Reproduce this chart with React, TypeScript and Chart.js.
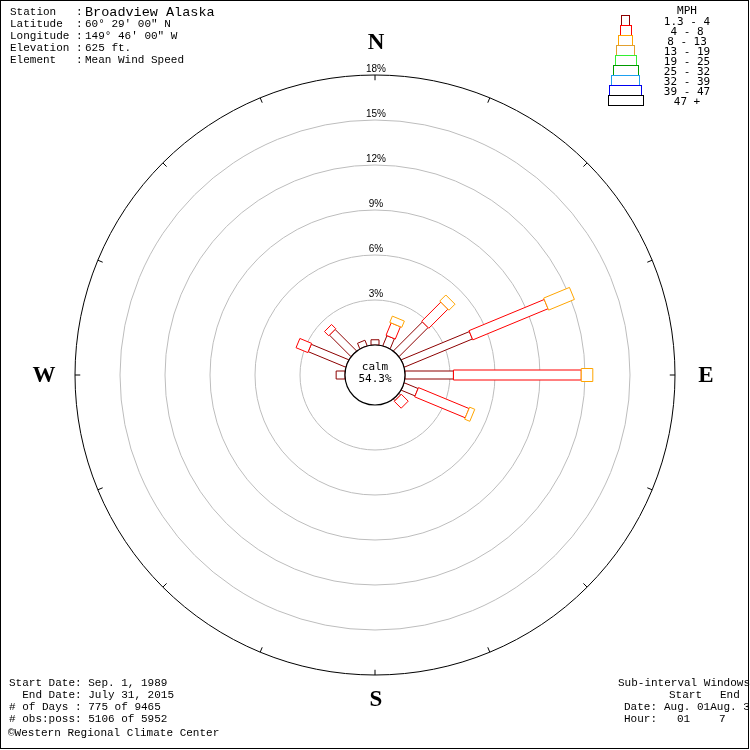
import React, { useEffect, useRef } from "react";
import { Chart, registerables } from "chart.js";

Chart.register(...registerables);

// ---- Data ----
const directions = ["N", "NNE", "NE", "ENE", "E", "ESE", "SE", "SSE", "S", "SSW", "SW", "WSW", "W", "WNW", "NW", "NNW"];
const speedClasses = ["1.3 - 4", "4 - 8", "8 - 13", "13 - 19", "19 - 25", "25 - 32", "32 - 39", "39 - 47", "47 +"];
const classColors = ["#8c0000", "#ff0000", "#ffa500", "#e0a030", "#33ee33", "#009900", "#1ea0f0", "#0000ee", "#000000"];
const classWidths = [8, 10, 13, 16, 19, 22, 25, 28, 31];
// percent of observations per direction, per speed class
const speed1 = [0.35, 0.73, 2.74, 4.92, 3.23, 1.0, 0.15, 0, 0, 0, 0, 0, 0.59, 2.71, 2.03, 0.4];
const speed2 = [0, 0.89, 1.8, 5.43, 8.52, 3.65, 0.65, 0, 0, 0, 0, 0, 0, 0.85, 0.4, 0];
const speed3 = [0, 0.45, 0.57, 1.86, 0.77, 0.37, 0, 0, 0, 0, 0, 0, 0, 0, 0, 0];
const speed4 = [0, 0, 0, 0, 0, 0, 0, 0, 0, 0, 0, 0, 0, 0, 0, 0];
const speed5 = [0, 0, 0, 0, 0, 0, 0, 0, 0, 0, 0, 0, 0, 0, 0, 0];
const speed6 = [0, 0, 0, 0, 0, 0, 0, 0, 0, 0, 0, 0, 0, 0, 0, 0];
const speed7 = [0, 0, 0, 0, 0, 0, 0, 0, 0, 0, 0, 0, 0, 0, 0, 0];
const speed8 = [0, 0, 0, 0, 0, 0, 0, 0, 0, 0, 0, 0, 0, 0, 0, 0];
const speed9 = [0, 0, 0, 0, 0, 0, 0, 0, 0, 0, 0, 0, 0, 0, 0, 0];
const seriesValues = [speed1, speed2, speed3, speed4, speed5, speed6, speed7, speed8, speed9];
const ringTicks = [3, 6, 9, 12, 15, 18];
const calmLabel = "calm";
const calmPct = "54.3%";
const compassLabels = ["N", "E", "S", "W"];
const compassIndex = [0, 4, 8, 12];

const headerLabels = ["Station   : ", "Latitude  : ", "Longitude : ", "Elevation : ", "Element   : "];
const headerValues = ["Broadview Alaska", "60\u00b0 29' 00\" N", "149\u00b0 46' 00\" W", "625 ft.", "Mean Wind Speed"];
const footerLeft = ["Start Date: Sep. 1, 1989", "  End Date: July 31, 2015", "# of Days : 775 of 9465", "# obs:poss: 5106 of 5952"];
const creditText = "\u00a9Western Regional Climate Center";

const MONO = "'Liberation Mono', 'DejaVu Sans Mono', monospace";

const rosePlugin = {
  id: "windrose",
  afterDraw(chart: any) {
    const ctx: CanvasRenderingContext2D = chart.ctx;
    const scale = chart.scales.r;
    const n = chart.data.labels.length;
    const dist = (v: number) => scale.getDistanceFromCenterForValue(v);
    ctx.save();

    // outer ring ticks
    ctx.strokeStyle = "#000";
    ctx.lineWidth = 1;
    const rOut = dist(scale.max);
    const rIn = dist(scale.max - 0.35);
    for (let i = 0; i < n; i++) {
      const a = scale.getPointPosition(i, rOut);
      const b = scale.getPointPosition(i, rIn);
      ctx.beginPath();
      ctx.moveTo(a.x, a.y);
      ctx.lineTo(b.x, b.y);
      ctx.stroke();
    }

    // ring labels
    ctx.fillStyle = "#000";
    ctx.font = "10px 'Liberation Sans', sans-serif";
    ctx.textAlign = "center";
    ctx.textBaseline = "alphabetic";
    ringTicks.forEach((v) => {
      const p = scale.getPointPosition(0, dist(v));
      ctx.fillText(v + "%", p.x + 1, p.y - 3);
    });

    // bars
    for (let i = 0; i < n; i++) {
      let cum = 0;
      chart.data.datasets.forEach((ds: any, k: number) => {
        const v = ds.data[i];
        if (!v) return;
        const p1 = scale.getPointPosition(i, dist(cum));
        const p2 = scale.getPointPosition(i, dist(cum + v));
        cum += v;
        const dx = p2.x - p1.x, dy = p2.y - p1.y;
        const len = Math.hypot(dx, dy) || 1;
        const nx = (-dy / len) * (classWidths[k] / 2);
        const ny = (dx / len) * (classWidths[k] / 2);
        ctx.beginPath();
        ctx.moveTo(p1.x + nx, p1.y + ny);
        ctx.lineTo(p2.x + nx, p2.y + ny);
        ctx.lineTo(p2.x - nx, p2.y - ny);
        ctx.lineTo(p1.x - nx, p1.y - ny);
        ctx.closePath();
        ctx.fillStyle = "#fff";
        ctx.fill();
        ctx.strokeStyle = ds.borderColor0;
        ctx.lineWidth = 1;
        ctx.stroke();
      });
    }

    // calm circle
    ctx.beginPath();
    ctx.arc(scale.xCenter, scale.yCenter, dist(0), 0, Math.PI * 2);
    ctx.fillStyle = "#fff";
    ctx.fill();
    ctx.strokeStyle = "#000";
    ctx.lineWidth = 1.2;
    ctx.stroke();
    ctx.fillStyle = "#000";
    ctx.font = "11px 'DejaVu Sans Mono', monospace";
    ctx.textAlign = "center";
    ctx.textBaseline = "middle";
    ctx.fillText(calmLabel, scale.xCenter, scale.yCenter - 8);
    ctx.fillText(calmPct, scale.xCenter, scale.yCenter + 4);

    // compass letters
    const compassGap = [33, 30, 24, 32];
    ctx.font = "bold 23px 'Liberation Serif', serif";
    compassLabels.forEach((lab, j) => {
      const p = scale.getPointPosition(compassIndex[j], dist(scale.max) + compassGap[j]);
      ctx.fillText(lab, p.x + 1, p.y + 1);
    });

    // legend
    ctx.lineWidth = 1;
    speedClasses.forEach((lab, k) => {
      const w = classWidths[k] + 0.5 * k;
      const top = 15 + 10 * k;
      ctx.strokeStyle = classColors[k];
      ctx.strokeRect(Math.round(625 - w / 2) + 0.5, top + 0.5, Math.round(w), 10);
      ctx.fillStyle = "#000";
      ctx.font = "11px 'DejaVu Sans Mono', monospace";
      ctx.textAlign = "center";
      ctx.textBaseline = "middle";
      ctx.fillText(lab, 687, top + 7);
    });
    ctx.fillText("MPH", 687, 11);

    // header
    ctx.textAlign = "left";
    ctx.textBaseline = "middle";
    headerLabels.forEach((lab, r) => {
      const y = 12 + 12 * r;
      ctx.font = "11px " + MONO;
      ctx.fillText(lab, 10, y);
      ctx.font = (r === 0 ? "13.5px " : "11px ") + MONO;
      ctx.fillText(headerValues[r], 85, y);
    });

    // footer left
    ctx.font = "11px " + MONO;
    footerLeft.forEach((t, r) => ctx.fillText(t, 9, 683 + 12 * r));
    ctx.fillText(creditText, 8, 733);

    // footer right
    ctx.fillText("Sub-interval Windows", 618, 683);
    ctx.fillText("Start", 669, 695);
    ctx.fillText("End", 720, 695);
    ctx.fillText("Date:", 624, 707);
    ctx.fillText("Aug. 01Aug. 31", 664, 707);
    ctx.fillText("Hour:", 624, 719);
    ctx.fillText("01", 677, 719);
    ctx.fillText("7", 719, 719);

    // frame
    ctx.strokeStyle = "#000";
    ctx.lineWidth = 1;
    ctx.strokeRect(0.5, 0.5, 748, 748);
    ctx.restore();
  },
};

export default function App() {
  const ref = useRef<HTMLCanvasElement | null>(null);
  useEffect(() => {
    if (!ref.current) return;
    const chart = new Chart(ref.current, {
      type: "radar",
      data: {
        labels: directions,
        datasets: seriesValues.map((vals, k) => ({
          label: speedClasses[k],
          data: vals,
          borderColor0: classColors[k],
          borderColor: "rgba(0,0,0,0)",
          backgroundColor: "rgba(0,0,0,0)",
          borderWidth: 0,
          pointRadius: 0,
          fill: false,
        })) as any,
      },
      options: {
        responsive: false,
        animation: false,
        layout: { padding: { left: 75, right: 75, top: 75, bottom: 75 } },
        plugins: { legend: { display: false }, tooltip: { enabled: false } },
        scales: {
          r: {
            min: -2,
            max: 18,
            startAngle: 0,
            ticks: { display: false, stepSize: 3 },
            pointLabels: { display: false },
            angleLines: { display: false },
            grid: {
              circular: true,
              lineWidth: 1,
              color: (c: any) => {
                const v = c.tick ? c.tick.value : 0;
                if (v === 18) return "#000";
                if (v > 0 && v % 3 === 0) return "#bdbdbd";
                return "rgba(0,0,0,0)";
              },
            },
          },
        },
      },
      plugins: [rosePlugin],
    } as any);
    return () => chart.destroy();
  }, []);
  return (
    <div style={{ position: "absolute", left: 0, top: 0, width: 750, height: 750, background: "#fff" }}>
      <canvas ref={ref} width={750} height={750} />
    </div>
  );
}
